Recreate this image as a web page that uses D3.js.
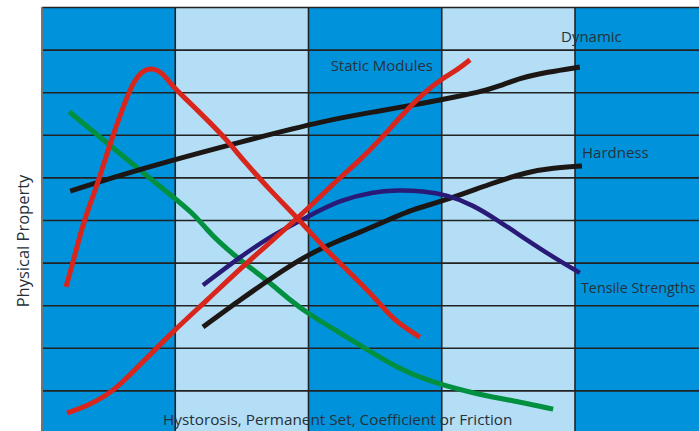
<!DOCTYPE html>
<html>
<head>
<meta charset="utf-8">
<script src="https://cdn.jsdelivr.net/npm/d3@7"></script>
<style>
  body { margin: 0; background: #fff; }
  svg { display: block; }
  text { font-family: "Open Sans", sans-serif; fill: #26313b; }
</style>
</head>
<body>
<svg id="chart" width="699" height="431"></svg>
<script>
// x: 0..100 spans the four measured columns, y: 0..100 spans the grid
const columns = [0, 25, 50, 75, 100]
const gridY = [10, 20, 30, 40, 50, 60, 70, 80, 90, 100]

const staticModulesA = [
  [4.5, 34.3], [6.2, 41.8], [7.7, 49.3], [10.5, 58.7], [12.8, 68.1], [15.2, 76.5],
  [17.1, 82.4], [18.9, 85.2], [20.8, 85.7], [22.7, 84.5], [24.6, 81.2], [27.2, 78.2],
  [31.0, 73.5], [34.7, 68.8], [37.7, 64.1], [43.3, 56.3], [47.8, 50.7], [52.7, 43.7],
  [57.8, 37.6], [62.9, 31.2], [65.9, 26.5], [70.9, 22.5]
]
const staticModulesB = [
  [4.7, 4.7], [8.4, 6.3], [12.2, 8.9], [14.6, 11.3], [18.4, 16.0], [24.6, 23.9],
  [31.0, 31.2], [37.1, 38.5], [43.3, 45.3], [50.3, 53.1], [54.6, 58.5], [59.7, 64.1],
  [63.4, 68.8], [67.2, 74.2], [71.5, 79.8], [75.2, 83.3], [77.9, 85.2], [80.3, 87.6]
]
const hysteresis = [
  [5.1, 75.4], [12.2, 68.1], [18.4, 61.7], [24.6, 55.4], [28.3, 51.6], [31.0, 47.7],
  [32.8, 45.3], [37.1, 40.6], [42.2, 35.9], [46.5, 31.2], [50.3, 27.7], [55.9, 23.5],
  [60.2, 20.2], [66.6, 15.3], [72.8, 12.0], [82.2, 8.9], [89.7, 7.3], [95.9, 5.6]
]
const dynamic = [
  [5.3, 56.8], [18.4, 62.0], [37.1, 68.3], [53.5, 73.5], [63.4, 75.6], [69.6, 77.0],
  [74.7, 78.2], [82.2, 80.0], [85.9, 81.5], [89.7, 83.3], [94.7, 84.7], [100.9, 85.9]
]
const hardness = [
  [30.2, 24.9], [37.1, 31.2], [43.3, 36.6], [49.7, 41.8], [55.9, 45.3], [62.1, 48.4],
  [65.9, 50.5], [69.0, 52.3], [76.0, 54.7], [84.1, 58.5], [91.0, 61.3], [95.9, 62.2],
  [101.3, 62.7]
]
const tensile = [
  [30.2, 34.7], [37.1, 41.3], [43.3, 46.5], [49.7, 50.7], [55.9, 54.7], [62.1, 56.6],
  [66.6, 57.0], [71.5, 56.8], [76.0, 55.9], [80.9, 53.5], [85.4, 50.0], [91.0, 45.3],
  [95.9, 41.3], [100.9, 37.6]
]

const width = 699
const height = 431
const padLeft = 42
const padTop = 7

const x = d3.scaleLinear().domain([0, 100]).range([padLeft, 575])
const y = d3.scaleLinear().domain([0, 100]).range([433, padTop])

const svg = d3.select('#chart')

// alternating column bands
const bandW = x(25) - x(0)
svg.selectAll('rect.band')
  .data(columns)
  .enter()
  .append('rect')
  .attr('class', 'band')
  .attr('x', d => x(d))
  .attr('y', padTop)
  .attr('width', bandW)
  .attr('height', height - padTop)
  .attr('fill', (d, i) => i % 2 ? '#b3def5' : '#0093dc')

// horizontal grid lines via an axis
svg.append('g')
  .attr('transform', `translate(${padLeft},0)`)
  .call(d3.axisLeft(y).tickValues(gridY).tickSize(-(width - padLeft)).tickFormat(''))
  .call(g => g.select('.domain').remove())
  .call(g => g.selectAll('line').attr('stroke', '#222').attr('stroke-width', 1.6))

// vertical column lines
svg.selectAll('line.col')
  .data(columns.slice(1))
  .enter()
  .append('line')
  .attr('class', 'col')
  .attr('x1', d => x(d))
  .attr('x2', d => x(d))
  .attr('y1', padTop)
  .attr('y2', height)
  .attr('stroke', '#222')
  .attr('stroke-width', 1.6)

svg.append('line')
  .attr('x1', padLeft).attr('x2', padLeft)
  .attr('y1', padTop).attr('y2', height)
  .attr('stroke', '#6e7479').attr('stroke-width', 2)

const line = d3.line()
  .x(d => x(d[0]))
  .y(d => y(d[1]))
  .curve(d3.curveBasis)

const series = [
  { data: hysteresis, color: '#009040', w: 5 },
  { data: dynamic, color: '#1c1714', w: 5 },
  { data: hardness, color: '#1c1714', w: 5 },
  { data: tensile, color: '#2a1a78', w: 4.5 },
  { data: staticModulesA, color: '#d9261c', w: 5 },
  { data: staticModulesB, color: '#d9261c', w: 5 }
]

svg.selectAll('path.series')
  .data(series)
  .enter()
  .append('path')
  .attr('class', 'series')
  .attr('d', s => line(s.data))
  .attr('fill', 'none')
  .attr('stroke', s => s.color)
  .attr('stroke-width', s => s.w)

const labels = [
  { t: 'Dynamic', x: 561, y: 42, a: 'start', s: 15 },
  { t: 'Static Modules', x: 433, y: 71, a: 'end', s: 15 },
  { t: 'Hardness', x: 582, y: 158, a: 'start', s: 15 },
  { t: 'Tensile Strengths', x: 581, y: 293, a: 'start', s: 14.3 },
  { t: 'Hystorosis, Permanent Set, Coefficient or Friction', x: 163, y: 425, a: 'start', s: 15.3 }
]

svg.selectAll('text.lbl')
  .data(labels)
  .enter()
  .append('text')
  .attr('class', 'lbl')
  .attr('x', d => d.x)
  .attr('y', d => d.y)
  .attr('text-anchor', d => d.a)
  .attr('font-size', d => d.s)
  .text(d => d.t)

svg.append('text')
  .attr('transform', 'translate(29,241) rotate(-90)')
  .attr('text-anchor', 'middle')
  .attr('font-size', 16.5)
  .text('Physical Property')
</script>
</body>
</html>
